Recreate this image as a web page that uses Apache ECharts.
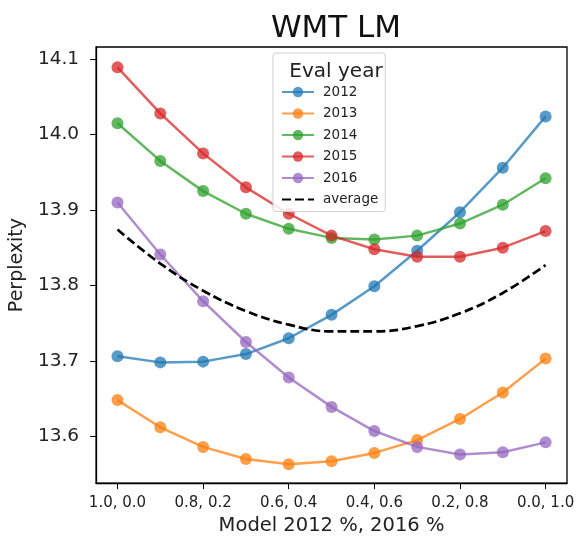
<!DOCTYPE html>
<html>
<head>
<meta charset="utf-8">
<script src="https://cdn.jsdelivr.net/npm/echarts@6/dist/echarts.min.js"></script>
<style>
  html, body {margin: 0; padding: 0; background: #fff;}
  #chart {width: 580px; height: 541px;}
</style>
</head>
<body>
<div id="chart"></div>
<script>
const categories = [
  '1.0, 0.0', '0.9, 0.1', '0.8, 0.2', '0.7, 0.3', '0.6, 0.4', '0.5, 0.5',
  '0.4, 0.6', '0.3, 0.7', '0.2, 0.8', '0.1, 0.9', '0.0, 1.0'
];
const eval2012 = [13.706, 13.698, 13.699, 13.709, 13.730, 13.761, 13.799, 13.846, 13.897, 13.956, 14.024];
const eval2013 = [13.648, 13.612, 13.586, 13.570, 13.563, 13.567, 13.578, 13.595, 13.623, 13.658, 13.703];
const eval2014 = [14.015, 13.965, 13.925, 13.895, 13.875, 13.863, 13.861, 13.866, 13.882, 13.907, 13.942];
const eval2015 = [14.089, 14.028, 13.975, 13.930, 13.895, 13.866, 13.848, 13.838, 13.838, 13.850, 13.872];
const eval2016 = [13.910, 13.841, 13.779, 13.725, 13.678, 13.639, 13.607, 13.586, 13.576, 13.579, 13.592];
const average = [13.874, 13.829, 13.793, 13.766, 13.748, 13.739, 13.739, 13.746, 13.763, 13.790, 13.827];
const yTicks = [13.6, 13.7, 13.8, 13.9, 14.0, 14.1];

const font = 'DejaVu Sans';
const chart = echarts.init(document.getElementById('chart'));

const yearSeries = (name, data, color) => ({
  name,
  type: 'line',
  data,
  symbol: 'circle',
  symbolSize: 12,
  color,
  lineStyle: {width: 2.5, color, opacity: 0.75},
  itemStyle: {color, opacity: 0.75},
  emphasis: {disabled: true},
  z: 3
});

chart.setOption({
  animation: false,
  textStyle: {fontFamily: font},
  title: [{
    text: 'WMT LM',
    left: 331,
    top: 8,
    textAlign: 'center',
    textStyle: {fontFamily: font, fontSize: 31, fontWeight: 'normal', color: '#111'}
  }, {
    text: 'Eval year',
    left: 331,
    top: 57,
    textAlign: 'center',
    textStyle: {fontFamily: font, fontSize: 20, fontWeight: 'normal', color: '#222'},
    z: 10
  }],
  grid: {
    left: 96, top: 47, right: 13, bottom: 55,
    show: true, borderColor: '#000', borderWidth: 1.3
  },
  legend: {
    orient: 'vertical',
    left: 273,
    top: 53,
    padding: [32, 7, 5, 8],
    itemWidth: 32,
    itemHeight: 13,
    itemGap: 7.5,
    backgroundColor: 'rgba(255,255,255,0.85)',
    borderColor: '#d0d0d0',
    borderWidth: 1,
    borderRadius: 3,
    textStyle: {fontFamily: font, fontSize: 13.5, lineHeight: 13, color: '#222', padding: [0, 0, 0, 4]},
    data: ['2012', '2013', '2014', '2015', '2016', {name: 'average', itemStyle: {opacity: 0}}],
    z: 9
  },
  xAxis: {
    type: 'category',
    data: categories,
    boundaryGap: true,
    name: 'Model 2012 %, 2016 %',
    nameLocation: 'middle',
    nameGap: 23,
    nameTextStyle: {fontFamily: font, fontSize: 19.5, color: '#222'},
    axisLine: {lineStyle: {color: '#000', width: 1.3}},
    axisTick: {show: true, interval: 1, alignWithLabel: true, length: 6, lineStyle: {color: '#000'}},
    axisLabel: {interval: 1, margin: 13, fontFamily: font, fontSize: 15, color: '#222'},
    splitLine: {show: false}
  },
  yAxis: {
    type: 'value',
    min: 13.538,
    max: 14.116,
    name: 'Perplexity',
    nameLocation: 'middle',
    nameGap: 66,
    nameTextStyle: {fontFamily: font, fontSize: 19, color: '#222'},
    axisLine: {show: true, lineStyle: {color: '#000', width: 1.3}},
    axisTick: {show: true, customValues: yTicks, length: 6, lineStyle: {color: '#000'}},
    axisLabel: {
      customValues: yTicks,
      margin: 17,
      fontFamily: font,
      fontSize: 18.5,
      color: '#222',
      formatter: v => v.toFixed(1)
    },
    splitLine: {show: false}
  },
  series: [
    yearSeries('2012', eval2012, '#1f77b4'),
    yearSeries('2013', eval2013, '#ff7f0e'),
    yearSeries('2014', eval2014, '#2ca02c'),
    yearSeries('2015', eval2015, '#d62728'),
    yearSeries('2016', eval2016, '#9467bd'),
    {
      name: 'average',
      type: 'line',
      data: average,
      smooth: 0.4,
      symbol: 'none',
      color: '#000',
      lineStyle: {width: 2.7, color: '#000', type: [9, 4]},
      emphasis: {disabled: true},
      z: 4
    }
  ]
});
</script>
</body>
</html>
